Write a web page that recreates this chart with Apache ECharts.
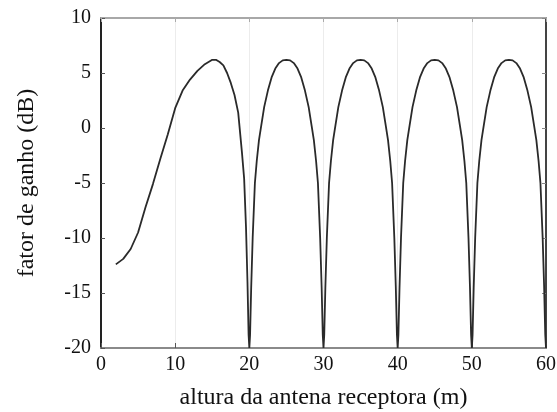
<!DOCTYPE html>
<html>
<head>
<meta charset="utf-8">
<script src="https://cdn.jsdelivr.net/npm/echarts@6/dist/echarts.min.js"></script>
<style>
  html, body { margin: 0; padding: 0; background: #fff; }
  #chart { width: 557px; height: 412px; }
</style>
</head>
<body>
<div id="chart"></div>
<script>
// altura da antena receptora (m)
var alturas = [
  2.0, 3.0, 4.0, 5.0, 6.0, 7.0, 8.0, 9.0, 10.0, 11.0, 12.0, 13.0, 14.0, 15.0, 15.5,
  16.0, 16.5, 17.0, 17.5, 18.0, 18.5, 19.0, 19.3, 19.55, 19.75, 19.9, 20.0,
  20.1, 20.25, 20.45, 20.75, 21.0, 21.3, 21.6, 22.0, 22.5, 23.0, 23.5, 24.0, 24.5, 25.0,
  25.5, 26.0, 26.5, 27.0, 27.5, 28.0, 28.4, 28.7, 29.0, 29.25, 29.55, 29.75, 29.9, 30.0,
  30.1, 30.25, 30.45, 30.75, 31.0, 31.3, 31.6, 32.0, 32.5, 33.0, 33.5, 34.0, 34.5, 35.0,
  35.5, 36.0, 36.5, 37.0, 37.5, 38.0, 38.4, 38.7, 39.0, 39.25, 39.55, 39.75, 39.9, 40.0,
  40.1, 40.25, 40.45, 40.75, 41.0, 41.3, 41.6, 42.0, 42.5, 43.0, 43.5, 44.0, 44.5, 45.0,
  45.5, 46.0, 46.5, 47.0, 47.5, 48.0, 48.4, 48.7, 49.0, 49.25, 49.55, 49.75, 49.9, 50.0,
  50.1, 50.25, 50.45, 50.75, 51.0, 51.3, 51.6, 52.0, 52.5, 53.0, 53.5, 54.0, 54.5, 55.0,
  55.5, 56.0, 56.5, 57.0, 57.5, 58.0, 58.4, 58.7, 59.0, 59.25, 59.55, 59.75, 59.9, 60.0
];
// fator de ganho (dB)
var ganho = [
  -12.4, -11.9, -11.0, -9.5, -7.2, -5.1, -2.8, -0.6, 1.8, 3.4, 4.4, 5.2, 5.8, 6.2, 6.2,
  6.0, 5.7, 5.0, 4.1, 3.0, 1.4, -2.2, -4.6, -9.0, -14.0, -18.8, -20.0,
  -18.8, -14.5, -10.0, -5.0, -3.0, -1.1, 0.2, 1.9, 3.4, 4.6, 5.4, 5.9, 6.15, 6.2,
  6.15, 5.9, 5.4, 4.6, 3.4, 1.9, 0.2, -1.1, -3.0, -5.0, -10.0, -14.5, -18.8, -20.0,
  -18.8, -14.5, -10.0, -5.0, -3.0, -1.1, 0.2, 1.9, 3.4, 4.6, 5.4, 5.9, 6.15, 6.2,
  6.15, 5.9, 5.4, 4.6, 3.4, 1.9, 0.2, -1.1, -3.0, -5.0, -10.0, -14.5, -18.8, -20.0,
  -18.8, -14.5, -10.0, -5.0, -3.0, -1.1, 0.2, 1.9, 3.4, 4.6, 5.4, 5.9, 6.15, 6.2,
  6.15, 5.9, 5.4, 4.6, 3.4, 1.9, 0.2, -1.1, -3.0, -5.0, -10.0, -14.5, -18.8, -20.0,
  -18.8, -14.5, -10.0, -5.0, -3.0, -1.1, 0.2, 1.9, 3.4, 4.6, 5.4, 5.9, 6.15, 6.2,
  6.15, 5.9, 5.4, 4.6, 3.4, 1.9, 0.2, -1.1, -3.0, -5.0, -10.0, -14.5, -18.8, -20.0
];
var xTicks = [0, 60, 10];   // min, max, interval
var yTicks = [-20, 10, 5];

var serif = 'Liberation Serif';

var pontos = [];
for (var i = 0; i < alturas.length; i++) {
  pontos.push([alturas[i], ganho[i]]);
}

var chart = echarts.init(document.getElementById('chart'));

var option = {
  animation: false,
  grid: { left: 101, right: 11, top: 18, bottom: 64, outerBoundsMode: 'none' },
  xAxis: [
    {
      type: 'value',
      position: 'bottom',
      min: xTicks[0], max: xTicks[1], interval: xTicks[2],
      name: 'altura da antena receptora (m)',
      nameLocation: 'middle',
      nameGap: 38,
      nameTextStyle: { fontFamily: serif, fontSize: 24, color: '#111' },
      axisLine: { onZero: false, lineStyle: { color: '#8a8a8a', width: 2 } },
      axisTick: { inside: true, length: 5, lineStyle: { color: '#555' } },
      axisLabel: { fontFamily: serif, fontSize: 20, color: '#111', margin: 7 },
      splitLine: { show: true, lineStyle: { color: '#ececec', width: 1 } }
    },
    {
      type: 'value',
      position: 'top',
      min: xTicks[0], max: xTicks[1], interval: xTicks[2],
      axisLine: { onZero: false, lineStyle: { color: '#a8a8a8', width: 2 } },
      axisTick: { inside: true, length: 4, lineStyle: { color: '#aaa' } },
      axisLabel: { show: false },
      splitLine: { show: false }
    }
  ],
  yAxis: [
    {
      type: 'value',
      position: 'left',
      min: yTicks[0], max: yTicks[1], interval: yTicks[2],
      name: 'fator de ganho (dB)',
      nameLocation: 'middle',
      nameGap: 62,
      nameTextStyle: { fontFamily: serif, fontSize: 24, color: '#111' },
      axisLine: { onZero: false, lineStyle: { color: '#222', width: 2 } },
      axisTick: { inside: true, length: 4, lineStyle: { color: '#555' } },
      axisLabel: { fontFamily: serif, fontSize: 20, color: '#111', margin: 10 },
      splitLine: { show: false }
    },
    {
      type: 'value',
      position: 'right',
      min: yTicks[0], max: yTicks[1], interval: yTicks[2],
      axisLine: { onZero: false, lineStyle: { color: '#444', width: 2 } },
      axisTick: { inside: true, length: 4, lineStyle: { color: '#888' } },
      axisLabel: { show: false },
      splitLine: { show: false }
    }
  ],
  series: [
    {
      type: 'line',
      data: pontos,
      showSymbol: false,
      clip: true,
      lineStyle: { color: '#2a2a2a', width: 1.8 }
    }
  ]
};

chart.setOption(option);
</script>
</body>
</html>
